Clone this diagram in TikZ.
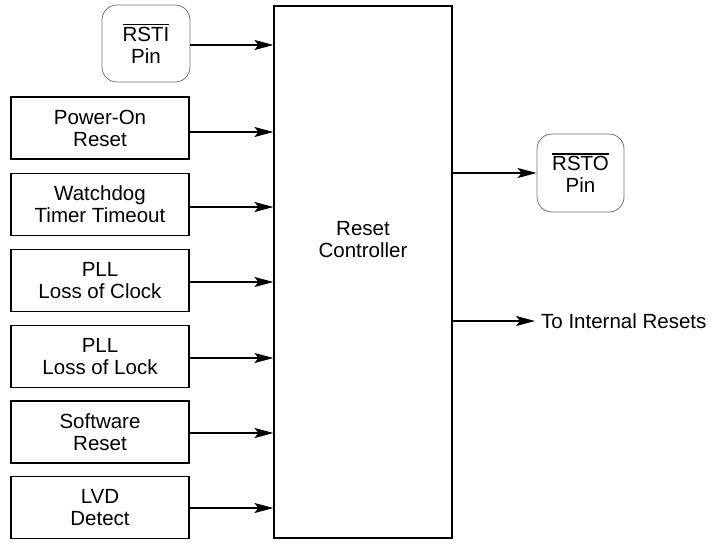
\documentclass[tikz,border=0pt]{standalone}
\usepackage{fontspec}
\setmainfont{Liberation Sans}
\usetikzlibrary{arrows.meta}
\newcommand{\barsig}[1]{{\setbox0\hbox{#1}\vbox{\hrule width \wd0 height 1.3pt\kern2pt\box0}}}
\begin{document}
\begin{tikzpicture}[x=1pt,y=-1pt,
  every node/.style={font=\fontsize{20.5}{22}\selectfont, align=center, inner sep=0pt},
  srcbox/.style={draw, line width=1.8pt, minimum width=178pt, minimum height=62pt},
  pinbox/.style={draw=black!55, line width=0.8pt, rounded corners=15pt},
  ctrlbox/.style={draw, line width=1.1pt, minimum width=178pt, minimum height=532pt},
  conn/.style={line width=1.8pt, -{Stealth[length=19pt,width=10pt,inset=4pt]}}
]
\useasboundingbox (0,0) rectangle (715,542);
\node[ctrlbox] (ctrl) at (363,272) {};
\node (ctrltext) at (363,240) {Reset\\Controller};

\node[pinbox, minimum width=88pt, minimum height=77pt] (rsti) at (146,43.5) {\barsig{RSTI}\\Pin};
\node[srcbox] (por) at (100,128) {Power-On\\Reset};
\node[srcbox] (wdt) at (100,204.5) {Watchdog\\Timer Timeout};
\node[srcbox] (loc) at (100,280.5) {PLL\\Loss of Clock};
\node[srcbox] (lol) at (100,356.5) {PLL\\Loss of Lock};
\node[srcbox] (sw) at (100,432) {Software\\Reset};
\node[srcbox] (lvd) at (100,507.5) {LVD\\Detect};

\node[pinbox, minimum width=87pt, minimum height=78pt] (rsto) at (580.5,173) {\barsig{RSTO}\\Pin};
\coordinate (intend) at (535,321);
\node[anchor=west] (internal) at (541,321) {To Internal Resets};

\draw[conn] (rsti.east |- 0,45) -- (ctrl.west |- 0,45);
\foreach \b/\yy in {por/132, wdt/207, loc/282, lol/358, sw/433, lvd/508}
  \draw[conn] (\b.east |- 0,\yy) -- (ctrl.west |- 0,\yy);
\draw[conn] (ctrl.east |- rsto.west) -- (rsto.west);
\draw[conn] (ctrl.east |- intend) -- (intend);
\end{tikzpicture}
\end{document}
